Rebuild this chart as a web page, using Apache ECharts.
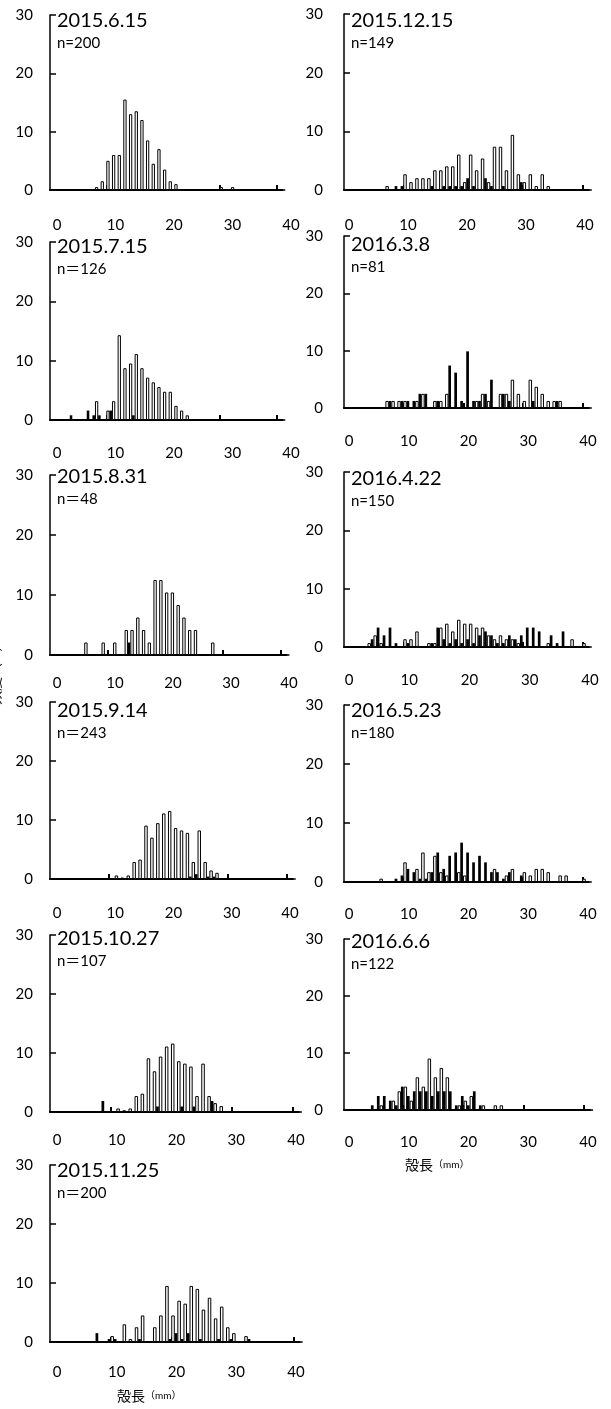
<!DOCTYPE html>
<html>
<head>
<meta charset="utf-8">
<script src="https://cdn.jsdelivr.net/npm/echarts@6/dist/echarts.min.js"></script>
<style>
  html, body { margin: 0; padding: 0; background: #fff; }
  #chart { width: 611px; height: 1409px; }
</style>
</head>
<body>
<div id="chart"></div>
<script>
// Shell-length classes (mm), one category per 1 mm
const sizeBins = Array.from({ length: 42 }, (_, i) => String(i));
const xTickLabels = [0, 10, 20, 30, 40];
const yTickLabels = [0, 10, 20, 30];

const surveyDates = ['2015.6.15', '2015.7.15', '2015.8.31', '2015.9.14', '2015.10.27', '2015.11.25',
                     '2015.12.15', '2016.3.8', '2016.4.22', '2016.5.23', '2016.6.6'];
const sampleSizes = ['n=200', 'n＝126', 'n＝48', 'n＝243', 'n＝107', 'n＝200',
                     'n=149', 'n=81', 'n=150', 'n=180', 'n=122'];

// Frequency (%) per size class, as [class, percent]; open = white bars, solid = black bars
const open_150615 = [[8,0.5],[9,1.5],[10,5],[11,6],[12,6],[13,15.5],[14,13],[15,13.5],[16,12],[17,8.5],[18,4.5],[19,7],[20,3.5],[21,1.5],[22,1],[30,0.5],[32,0.5]];
const solid_150615 = [];

const open_150715 = [[8,3.17],[10,1.59],[11,3.17],[12,14.29],[13,8.73],[14,9.52],[15,11.11],[16,8.73],[17,7.14],[18,6.35],[19,5.56],[20,4.76],[21,4.76],[22,2.38],[23,1.59],[24,0.79]];
const solid_150715 = [[4,0.79],[7,1.59],[8,0.79],[9,0.79],[11,1.59],[15,0.79]];

const open_150831 = [[6,2.08],[9,2.08],[11,2.08],[13,4.17],[14,4.17],[15,6.25],[16,4.17],[17,2.08],[18,12.5],[19,12.5],[20,10.42],[21,10.42],[22,8.33],[23,6.25],[24,4.17],[25,4.17],[28,2.08]];
const solid_150831 = [[14,2.08]];

const open_150914 = [[11,0.6],[12,0.25],[13,0.6],[14,2.88],[15,3.29],[16,9.05],[17,7.0],[18,9.47],[19,11.11],[20,11.52],[21,8.64],[22,8.23],[23,7.82],[24,2.88],[25,8.23],[26,2.88],[27,1.45],[28,1.05]];
const solid_150914 = [[24,0.41],[25,0.82],[27,0.41],[28,0.41]];

const open_151027 = [[11,0.6],[12,0.3],[13,0.6],[14,2.7],[15,3.1],[16,9.1],[17,6.9],[18,9.4],[19,11.1],[20,11.6],[21,8.6],[22,8.2],[23,7.7],[24,2.7],[25,8.2],[26,2.7],[27,1.5],[28,1.0]];
const solid_151027 = [[9,1.87],[18,0.93],[22,0.93],[24,0.93],[27,1.87]];

const open_151125 = [[10,1.0],[12,3.0],[13,0.5],[14,2.5],[15,4.5],[17,2.5],[18,4.5],[19,9.5],[20,4.5],[21,7.0],[22,6.5],[23,9.5],[24,9.0],[25,5.5],[26,7.5],[27,4.0],[28,6.0],[29,2.5],[30,1.5],[32,1.0]];
const solid_151125 = [[8,1.5],[10,0.5],[11,0.5],[15,0.5],[20,0.5],[21,1.5],[22,0.5],[23,1.5],[25,0.5],[28,0.5],[30,0.5],[33,0.5]];

const open_151215 = [[7,0.67],[10,2.68],[11,1.34],[12,2.01],[13,2.01],[14,2.01],[15,3.36],[16,3.36],[17,4.03],[18,4.03],[19,6.04],[20,1.34],[21,6.04],[22,3.36],[23,5.37],[24,1.34],[25,7.38],[26,7.38],[27,3.36],[28,9.4],[29,2.68],[30,1.34],[31,2.68],[32,0.67],[33,2.68],[34,0.67]];
const solid_151215 = [[9,0.67],[10,0.67],[15,0.67],[17,0.67],[18,0.67],[19,0.67],[20,0.67],[21,2.01],[22,0.67],[24,2.01],[25,0.67],[27,0.67],[30,1.34]];

const open_160308 = [[7,1.23],[8,1.23],[9,1.23],[10,1.23],[12,1.23],[13,2.47],[15,1.23],[16,1.23],[17,2.47],[22,1.23],[23,2.47],[24,1.23],[26,2.47],[27,2.47],[28,4.94],[29,2.47],[30,1.23],[31,4.94],[32,3.7],[33,2.47],[34,1.23],[35,1.23],[36,1.23]];
const solid_160308 = [[8,1.23],[10,1.23],[11,1.23],[12,1.23],[13,2.47],[14,2.47],[16,1.23],[18,7.41],[19,6.17],[20,1.23],[21,9.88],[22,1.23],[23,1.23],[24,2.47],[25,4.94],[27,2.47],[28,1.23],[32,1.23],[36,1.23]];

const open_160422 = [[4,0.67],[5,2.0],[6,0.67],[10,1.33],[11,1.33],[12,2.67],[14,0.67],[15,0.67],[16,3.33],[17,4.0],[18,2.67],[19,4.67],[20,4.0],[21,4.0],[22,3.33],[23,3.33],[24,2.0],[25,1.33],[26,2.0],[27,1.33],[28,1.33],[29,0.67],[34,0.67],[38,1.33],[40,0.67]];
const solid_160422 = [[5,1.33],[6,3.33],[7,2.0],[8,3.33],[9,0.67],[11,0.67],[15,0.67],[16,3.33],[17,1.33],[18,0.67],[19,1.33],[20,0.67],[21,1.33],[22,0.67],[23,2.0],[24,2.67],[25,2.0],[26,0.67],[27,0.67],[28,2.0],[29,1.33],[30,2.0],[31,3.33],[32,3.33],[33,2.67],[35,2.0],[36,0.67],[37,2.67]];

const open_160523 = [[6,0.56],[10,3.33],[12,2.22],[13,5.0],[14,1.67],[15,4.44],[16,1.67],[17,1.11],[19,1.67],[20,1.11],[25,2.22],[27,1.11],[28,2.22],[30,1.67],[31,1.11],[32,2.22],[33,2.22],[34,1.67],[36,1.11],[37,1.11],[40,0.56]];
const solid_160523 = [[9,0.56],[10,1.11],[11,2.22],[12,1.67],[13,0.56],[14,0.56],[15,1.67],[16,5.0],[17,2.22],[18,4.44],[19,5.0],[20,6.67],[21,5.0],[22,3.33],[23,4.44],[24,3.33],[25,1.67],[26,1.67],[27,0.56],[28,1.67],[30,1.11]];

const open_160606 = [[6,0.82],[8,1.64],[9,3.28],[10,4.1],[11,1.64],[12,5.74],[13,4.1],[14,9.02],[15,5.74],[16,7.38],[17,5.74],[19,0.82],[20,1.64],[21,2.46],[23,0.82],[25,0.82],[26,0.82]];
const solid_160606 = [[5,0.82],[6,2.46],[7,2.46],[8,1.64],[9,0.82],[10,4.1],[11,2.46],[12,3.28],[13,3.28],[14,3.28],[15,2.46],[16,3.28],[17,3.28],[18,3.28],[19,0.82],[20,2.46],[21,0.82],[22,3.28],[23,0.82]];

const openSeries = [open_150615, open_150715, open_150831, open_150914, open_151027, open_151125,
                    open_151215, open_160308, open_160422, open_160523, open_160606];
const solidSeries = [solid_150615, solid_150715, solid_150831, solid_150914, solid_151027, solid_151125,
                     solid_151215, solid_160308, solid_160422, solid_160523, solid_160606];

// Panel frames (pixels): axis origin x, width of one class, plot top, baseline,
// x positions of the "0" and "40" tick labels, label row y, title y
const frames = [
  { x: 50,  slot: 5.667, top: 15,   y0: 190,  lx0: 57,  lx40: 291, ly: 225,  ty: 11 },
  { x: 50,  slot: 5.667, top: 242,  y0: 420,  lx0: 57,  lx40: 291, ly: 453,  ty: 237 },
  { x: 50,  slot: 5.767, top: 475,  y0: 655,  lx0: 57,  lx40: 289, ly: 683,  ty: 467 },
  { x: 50,  slot: 5.917, top: 702,  y0: 879,  lx0: 57,  lx40: 290, ly: 913,  ty: 701 },
  { x: 50,  slot: 6.067, top: 935,  y0: 1112, lx0: 57,  lx40: 296, ly: 1140, ty: 929 },
  { x: 50,  slot: 6.083, top: 1165, y0: 1342, lx0: 57,  lx40: 296, ly: 1372, ty: 1161 },
  { x: 344, slot: 5.967, top: 14,   y0: 190,  lx0: 349, lx40: 585, ly: 225,  ty: 11 },
  { x: 344, slot: 5.967, top: 236,  y0: 408,  lx0: 349, lx40: 588, ly: 441,  ty: 235 },
  { x: 344, slot: 5.967, top: 472,  y0: 647,  lx0: 349, lx40: 590, ly: 680,  ty: 469 },
  { x: 344, slot: 5.967, top: 705,  y0: 882,  lx0: 349, lx40: 588, ly: 914,  ty: 701 },
  { x: 344, slot: 6.0,   top: 939,  y0: 1110, lx0: 349, lx40: 588, ly: 1142, ty: 932 }
];

const FONT = 'Lato, "Noto Sans CJK JP", sans-serif';

function toCategoryData(pairs) {
  const out = sizeBins.map(() => 0);
  pairs.forEach(([k, v]) => { out[k] = v; });
  return out;
}

const grid = [], xAxis = [], yAxis = [], series = [], graphic = [];

frames.forEach((f, i) => {
  const isRight = f.x > 300;
  // histogram grid
  grid.push({ left: f.x, top: f.top, width: f.slot * (sizeBins.length - 1), height: f.y0 - f.top });
  xAxis.push({
    type: 'category', gridIndex: i, data: sizeBins, boundaryGap: false,
    axisLine: { lineStyle: { color: '#000', width: 2 } },
    axisTick: { show: true, inside: true, length: 5, interval: (idx) => idx > 0 && idx % 10 === 0,
                lineStyle: { color: '#000', width: 2 } },
    axisLabel: { show: false }, splitLine: { show: false }
  });
  yAxis.push({
    type: 'value', gridIndex: i, min: 0, max: 30, interval: 10,
    axisLine: { show: true, lineStyle: { color: '#000', width: 1.5 } },
    axisTick: { show: true, inside: true, length: 6, lineStyle: { color: '#000', width: 1.5 } },
    axisLabel: { color: '#000', fontSize: 15, fontFamily: FONT, margin: isRight ? 21 : 17,
                 formatter: (v) => yTickLabels.includes(v) ? String(v) : '' },
    splitLine: { show: false }
  });
  series.push({
    type: 'bar', xAxisIndex: i, yAxisIndex: i, data: toCategoryData(solidSeries[i]),
    barWidth: '45%', barGap: '0%', barCategoryGap: '0%',
    itemStyle: { color: '#000' }, silent: true
  });
  series.push({
    type: 'bar', xAxisIndex: i, yAxisIndex: i, data: toCategoryData(openSeries[i]),
    barWidth: '58%', barGap: '0%', barCategoryGap: '0%',
    itemStyle: { color: '#fff', borderColor: '#000', borderWidth: 1 }, silent: true
  });
  // panel heading
  graphic.push({ type: 'text', left: f.x + 7, top: f.ty,
    style: { text: surveyDates[i], font: '20px ' + FONT, fill: '#000' } });
  graphic.push({ type: 'text', left: f.x + 7, top: f.ty + 25,
    style: { text: sampleSizes[i], font: '15px ' + FONT, fill: '#000' } });
});

// tick-label rows under each panel
frames.forEach((f, i) => {
  const gi = frames.length + i;
  grid.push({ left: f.lx0, top: f.ly - 12, width: f.lx40 - f.lx0, height: 1 });
  xAxis.push({
    type: 'value', gridIndex: gi, min: 0, max: 40, interval: 10,
    axisLine: { show: false }, axisTick: { show: false }, splitLine: { show: false },
    axisLabel: { color: '#000', fontSize: 15, fontFamily: FONT, margin: 4,
                 formatter: (v) => xTickLabels.includes(v) ? String(v) : '' }
  });
  yAxis.push({ type: 'value', gridIndex: gi, show: false, min: 0, max: 1 });
});

// axis titles
const lengthTitle = { a: { fontSize: 14, fontFamily: FONT, fill: '#000' }, b: { fontSize: 10, fontFamily: FONT, fill: '#000' } };
graphic.push({ type: 'text', left: 117, top: 1389, style: { text: '{a|殻長}{b|（mm）}', rich: lengthTitle } });
graphic.push({ type: 'text', left: 405, top: 1158, style: { text: '{a|殻長}{b|（mm）}', rich: lengthTitle } });
graphic.push({ type: 'text', x: -12, y: 705, rotation: Math.PI / 2,
  style: { text: '頻度（%）', font: '14px ' + FONT, fill: '#000' } });

const chart = echarts.init(document.getElementById('chart'), null, { renderer: 'canvas' });
chart.setOption({ animation: false, backgroundColor: '#fff', grid, xAxis, yAxis, series, graphic });
</script>
</body>
</html>
